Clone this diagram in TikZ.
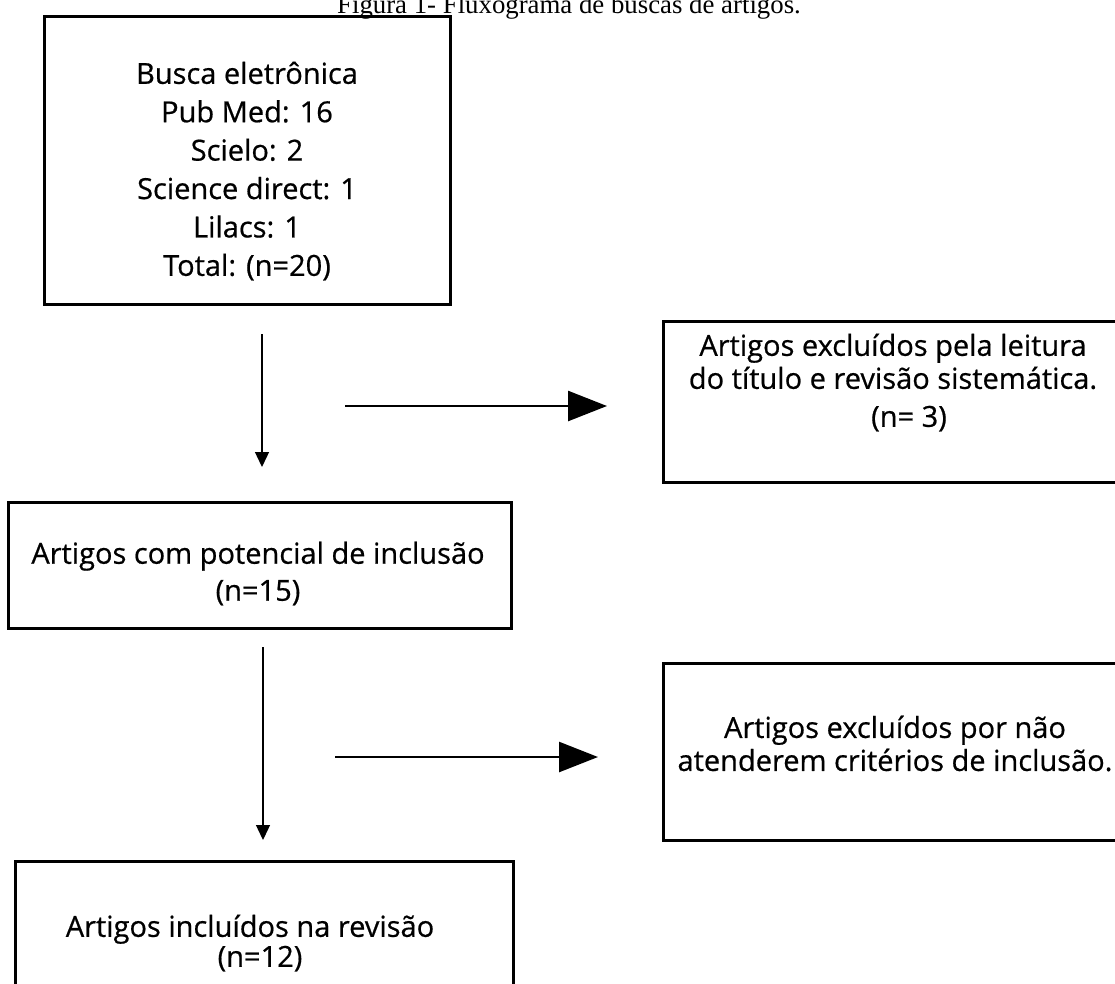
\documentclass[tikz,border=0pt]{standalone}
\usepackage{fontspec}
\setmainfont{Open Sans}[FakeBold=0.6]
\newfontfamily\titlefont{Liberation Serif}
\usetikzlibrary{arrows.meta}
\begin{document}
\begin{tikzpicture}[x=1pt,y=-1pt,
  box/.style={draw, line width=3pt, rectangle, inner sep=0pt},
  txt/.style={align=center, inner sep=0pt},
  down/.style={line width=1.3pt, -{Triangle[width=14pt,length=15pt]}},
  side/.style={line width=2.6pt, -{Triangle[width=30pt,length=39pt]}}]
\clip (0,0) rectangle (1115,983);
\node[anchor=base, font=\titlefont\fontsize{26.8}{30}\selectfont, inner sep=0pt] (title) at (569,13.5) {Figura 1- Fluxograma de buscas de artigos.};
% boxes
\node[box, minimum width=406pt, minimum height=288pt] (b1) at (247,160) {};
\node[box, minimum width=457pt, minimum height=161pt] (b2) at (891.5,401.5) {};
\node[box, minimum width=503pt, minimum height=126pt] (b3) at (259.5,565) {};
\node[box, minimum width=457pt, minimum height=177pt] (b4) at (891.5,751.5) {};
\node[box, minimum width=498pt, minimum height=139pt] (b5) at (264,930.5) {};
% texts
\node[txt, font=\fontsize{29}{38.4}\selectfont] (t1) at (247,171) {Busca eletrônica\\Pub Med: 16\\Scielo: 2\\Science direct: 1\\Lilacs: 1\\Total: (n=20)};
\node[txt, font=\fontsize{29}{33}\selectfont] (t2) at (893,382.5) {Artigos excluídos pela leitura\\do título e revisão sistemática.\\[5pt]\hspace*{32pt}(n= 3)};
\node[txt, font=\fontsize{29}{37}\selectfont] (t3) at (258,573.5) {Artigos com potencial de inclusão\\(n=15)};
\node[txt, font=\fontsize{29}{33}\selectfont] (t4) at (895,743.5) {Artigos excluídos por não\\atenderem critérios de inclusão.};
\node[txt, font=\fontsize{29}{30}\selectfont] (t5) at (250,943) {Artigos incluídos na revisão\\\hspace*{20pt}(n=12)};
% arrow end points
\coordinate (v1s) at (262,334);
\coordinate (v1e) at (262,467);
\coordinate (h1s) at (345,406);
\coordinate (h1e) at (607,406);
\coordinate (v2s) at (263,647);
\coordinate (v2e) at (263,840);
\coordinate (h2s) at (335,757);
\coordinate (h2e) at (598,757);
\draw[down] (v1s) -- (v1e);
\draw[side] (h1s) -- (h1e);
\draw[down] (v2s) -- (v2e);
\draw[side] (h2s) -- (h2e);
\end{tikzpicture}
\end{document}
